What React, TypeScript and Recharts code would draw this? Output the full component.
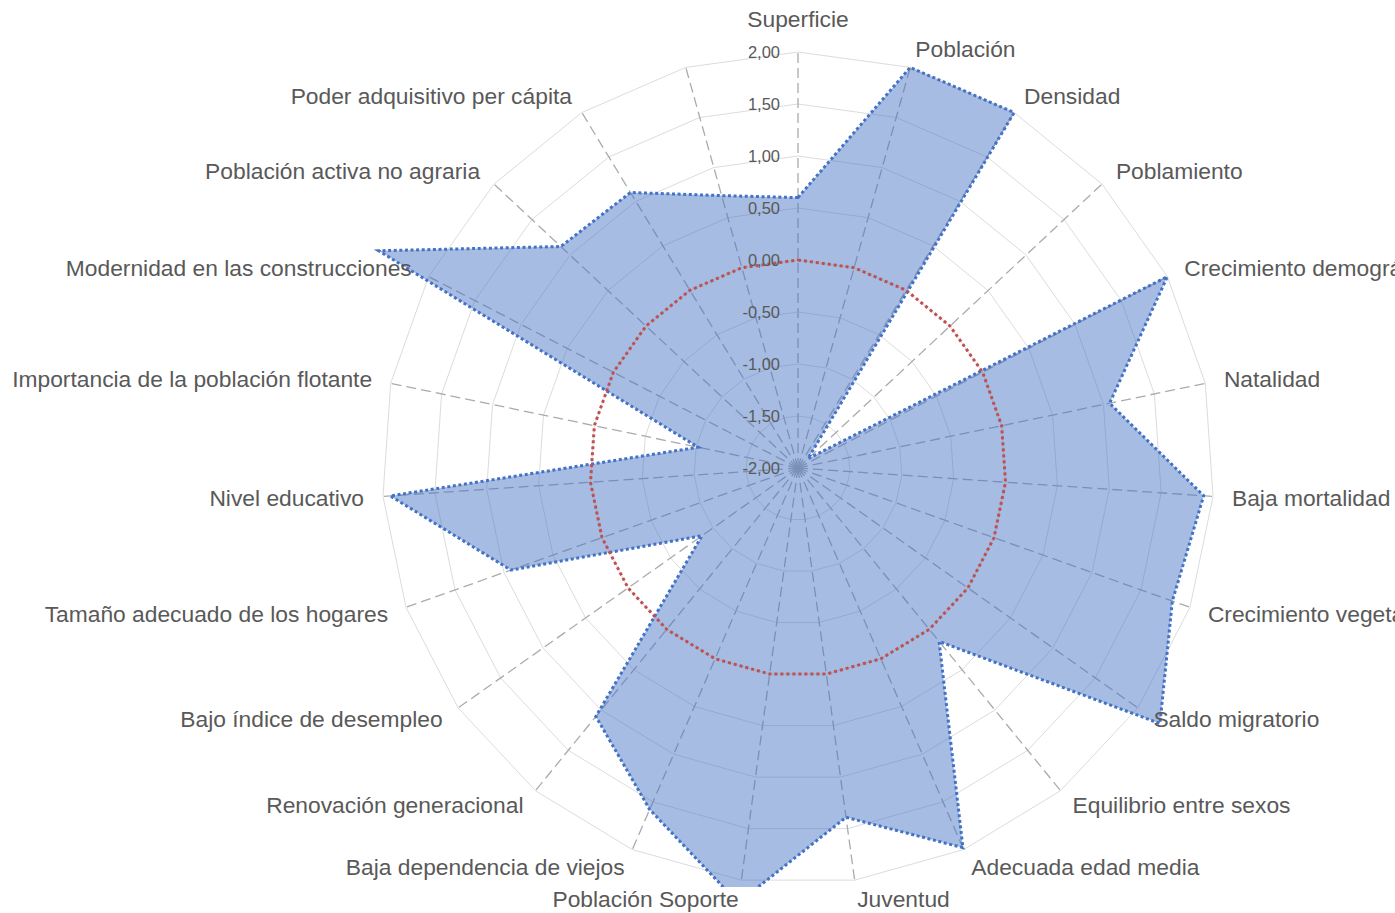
import { PolarAngleAxis, PolarGrid, PolarRadiusAxis, Radar, RadarChart } from "recharts";

const categories = [
  "Superficie",
  "Población",
  "Densidad",
  "Poblamiento",
  "Crecimiento demográfico",
  "Natalidad",
  "Baja mortalidad",
  "Crecimiento vegetativo",
  "Saldo migratorio",
  "Equilibrio entre sexos",
  "Adecuada edad media",
  "Juventud",
  "Población Soporte",
  "Baja dependencia de viejos",
  "Renovación generacional",
  "Bajo índice de desempleo",
  "Tamaño adecuado de los hogares",
  "Nivel educativo",
  "Importancia de la población flotante",
  "Modernidad en las construcciones",
  "Población activa no agraria",
  "Poder adquisitivo per cápita",
  "",
];

const municipio = [
  0.6, 2.0, 2.0, -1.87, 2.0, 1.06, 1.91, 1.82, 2.26, 0.15, 1.98, 1.39,
  2.22, 1.58, 1.08, -0.87, 0.93, 1.93, -1.02, 2.54, 1.12, 1.1, 0.72,
];

const media = [
  0, 0, 0, 0, 0, 0, 0, 0, 0, 0, 0, 0,
  0, 0, 0, 0, 0, 0, 0, 0, 0, 0, 0,
];

const radiusTicks = [-2, -1.5, -1, -0.5, 0, 0.5, 1, 1.5, 2];

const data = categories.map((name, i) => ({ key: i, name, municipio: municipio[i], media: media[i] }));

const CX = 798;
const CY = 468;
const R = 416;
const FONT = "'Liberation Sans', Arial, sans-serif";

const fmt = (v: number) => v.toFixed(2).replace(".", ",");

const RadiusTick = ({ x, y, payload }: any) => (
  <text x={x - 18} y={y} textAnchor="end" dominantBaseline="central" fontSize={16.5} fill="#595959" fontFamily={FONT}>
    {fmt(payload.value)}
  </text>
);

const AngleTick = ({ payload }: any) => {
  const a = (payload.coordinate * Math.PI) / 180;
  const cos = Math.cos(a);
  const sin = Math.sin(a);
  const r = R + 19;
  const x = CX + r * cos;
  let y = CY - r * sin;
  let anchor = "middle";
  if (cos > 0.05) anchor = "start";
  else if (cos < -0.05) anchor = "end";
  else y -= 14 * Math.sign(sin);
  const label = categories[payload.value] ?? "";
  return (
    <text x={x} y={y} textAnchor={anchor} dominantBaseline="central" fontSize={22.8} fill="#595959" fontFamily={FONT}>
      {label}
    </text>
  );
};

export default function App() {
  return (
    <div>
      <style>{`
        body { margin: 0; overflow: hidden; background: #fff; }
        .recharts-polar-grid-angle line { stroke: #ababab; stroke-dasharray: 10 5; stroke-width: 1.3; }
      `}</style>
      <RadarChart
        width={1395}
        height={913}
        data={data}
        cx={CX}
        cy={CY}
        outerRadius={R}
        margin={{ top: 0, right: 0, bottom: 0, left: 0 }}
      >
        <defs>
          <clipPath id="plotClip">
            <rect x={0} y={0} width={1395} height={887} />
          </clipPath>
        </defs>
        <PolarGrid gridType="polygon" stroke="#dcdcdc" strokeWidth={1} />
        <PolarAngleAxis dataKey="key" tick={<AngleTick />} axisLine={false} tickLine={false} />
        <PolarRadiusAxis
          angle={90}
          type="number"
          domain={[-2, 2]}
          ticks={radiusTicks}
          tickCount={9}
          allowDataOverflow
          axisLine={false}
          tickLine={false}
          tick={<RadiusTick />}
        />
        <Radar
          dataKey="municipio"
          fill="#4472c4"
          fillOpacity={0.48}
          stroke="#4472c4"
          strokeWidth={3}
          strokeDasharray="3 2.6"
          clipPath="url(#plotClip)"
          isAnimationActive={false}
        />
        <Radar
          dataKey="media"
          fill="none"
          fillOpacity={0}
          stroke="#c0504d"
          strokeWidth={3}
          strokeDasharray="3 3"
          isAnimationActive={false}
        />
      </RadarChart>
    </div>
  );
}
